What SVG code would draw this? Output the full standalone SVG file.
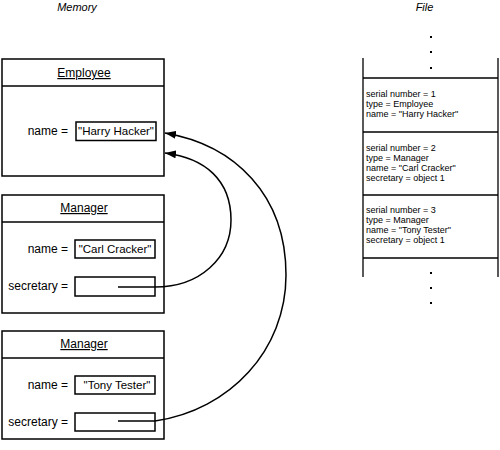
<svg xmlns="http://www.w3.org/2000/svg" width="500" height="450" viewBox="0 0 500 450">
<style>
  text { font-family: "Liberation Sans", Arial, sans-serif; fill: #000; }
  .title { font-size: 11px; font-style: italic; text-anchor: middle; }
  .cls { font-size: 12px; text-anchor: middle; text-decoration: underline; }
  .lbl { font-size: 12px; text-anchor: end; }
  .val { font-size: 11.5px; text-anchor: middle; }
  .rec { font-size: 9px; }
  .box { fill: #fff; stroke: #000; stroke-width: 1.5; }
  .ln { stroke: #000; stroke-width: 1.5; fill: none; }
  .fl { stroke: #000; stroke-width: 1.3; fill: none; }
  .dot { fill: #000; }
</style>
<defs>
  <marker id="arr" markerUnits="userSpaceOnUse" markerWidth="11" markerHeight="8" refX="11" refY="4" orient="auto">
    <path d="M0,0 L11,4 L0,8 z" fill="#000"/>
  </marker>
</defs>
<rect width="500" height="450" fill="#fff"/>

<text class="title" x="77" y="11">Memory</text>
<text class="title" x="424.5" y="11">File</text>

<g id="employee">
  <rect class="box" x="2" y="59" width="162" height="117"/>
  <line class="ln" x1="2" y1="86" x2="164" y2="86"/>
  <text class="cls" x="84" y="77">Employee</text>
  <text class="lbl" x="68" y="135">name =</text>
  <rect class="box" x="76" y="122" width="80" height="18.5"/>
  <text class="val" x="116" y="135">"Harry Hacker"</text>
</g>

<g id="manager1">
  <rect class="box" x="2" y="195" width="162" height="118"/>
  <line class="ln" x1="2" y1="222" x2="164" y2="222"/>
  <text class="cls" x="84" y="212">Manager</text>
  <text class="lbl" x="68" y="253">name =</text>
  <rect class="box" x="75" y="240" width="80" height="18"/>
  <text class="val" x="115" y="253">"Carl Cracker"</text>
  <text class="lbl" x="68" y="290">secretary =</text>
  <rect class="box" x="75" y="277" width="80" height="19"/>
</g>

<g id="manager2">
  <rect class="box" x="2" y="331" width="162" height="108"/>
  <line class="ln" x1="2" y1="358" x2="164" y2="358"/>
  <text class="cls" x="84" y="348">Manager</text>
  <text class="lbl" x="68" y="389">name =</text>
  <rect class="box" x="75" y="376" width="80" height="18"/>
  <text class="val" x="117" y="389">"Tony Tester"</text>
  <text class="lbl" x="68" y="426">secretary =</text>
  <rect class="box" x="75" y="413" width="80" height="18"/>
</g>

<g id="file">
  <line class="fl" x1="363" y1="58" x2="363" y2="277"/>
  <line class="fl" x1="498" y1="58" x2="498" y2="277"/>
  <line class="fl" x1="363" y1="78" x2="498" y2="78"/>
  <line class="fl" x1="363" y1="132" x2="498" y2="132"/>
  <line class="fl" x1="363" y1="195" x2="498" y2="195"/>
  <line class="fl" x1="363" y1="258" x2="498" y2="258"/>
  <rect class="dot" x="430" y="36" width="2" height="2"/>
  <rect class="dot" x="430" y="51" width="2" height="2"/>
  <rect class="dot" x="430" y="67" width="2" height="2"/>
  <rect class="dot" x="430" y="272" width="2" height="2"/>
  <rect class="dot" x="430" y="287" width="2" height="2"/>
  <rect class="dot" x="430" y="302" width="2" height="2"/>
  <g id="record1">
    <text class="rec" x="366" y="97">serial number = 1</text>
    <text class="rec" x="366" y="107">type = Employee</text>
    <text class="rec" x="366" y="117">name = "Harry Hacker"</text>
  </g>
  <g id="record2">
    <text class="rec" x="366" y="151">serial number = 2</text>
    <text class="rec" x="366" y="161">type = Manager</text>
    <text class="rec" x="366" y="171">name = "Carl Cracker"</text>
    <text class="rec" x="366" y="181">secretary = object 1</text>
  </g>
  <g id="record3">
    <text class="rec" x="366" y="213">serial number = 3</text>
    <text class="rec" x="366" y="223">type = Manager</text>
    <text class="rec" x="366" y="233">name = "Tony Tester"</text>
    <text class="rec" x="366" y="243">secretary = object 1</text>
  </g>
</g>

<g id="connectors">
  <path class="ln" d="M118,287 L155,287 C200,287 231,258 231,220 C231,180 205,158 165,153" marker-end="url(#arr)"/>
  <path class="ln" d="M118,421 L155,421 C230,410 286,350 286,275 C286,195 235,145 165,133" marker-end="url(#arr)"/>
</g>
</svg>
